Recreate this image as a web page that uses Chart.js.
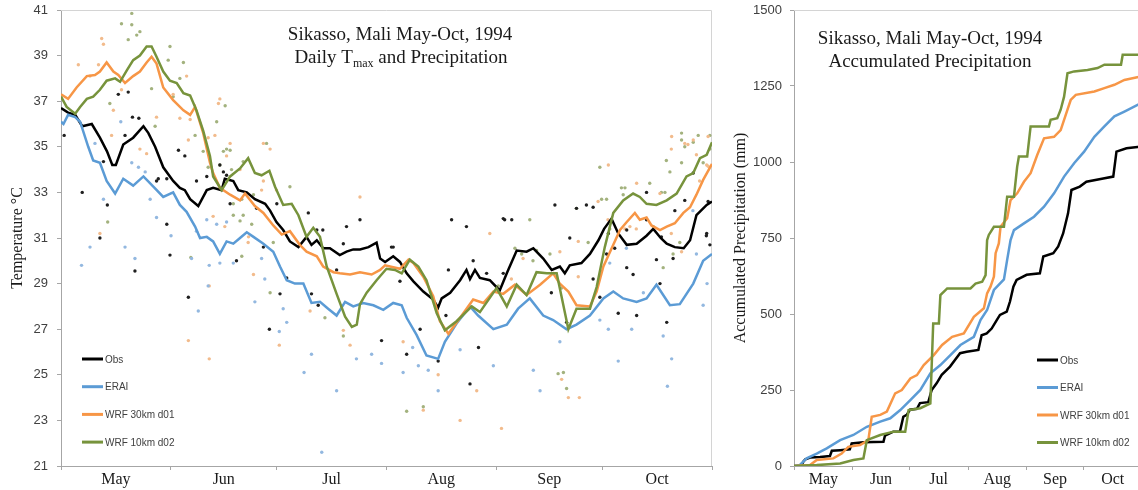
<!DOCTYPE html>
<html><head><meta charset="utf-8">
<script src="https://cdn.jsdelivr.net/npm/chart.js@4.4.1/dist/chart.umd.min.js"></script>
<style>
html,body{margin:0;padding:0;overflow:hidden;background:#fff;width:1138px;height:490px;}
#wrapL{position:absolute;left:0;top:0;width:720px;height:490px;}
#wrapR{position:absolute;left:720px;top:0;width:430px;height:490px;}
</style></head><body>
<div id="wrapL"><canvas id="cL" width="720" height="490"></canvas></div>
<div id="wrapR"><canvas id="cR" width="430" height="490"></canvas></div>
<script>
// ---------- categories / labels ----------
const monthLabels = ['May','Jun','Jul','Aug','Sep','Oct'];
const monthStartDays = [0,31,61,92,123,153,184];   // day index since 1 May 1994
const seriesNames = ['Obs','ERAI','WRF 30km d01','WRF 10km d02'];
const tempTicks = [21,41,2];       // min, max, step
const precipTicks = [0,1500,250];  // min, max, step
const titleLeft1 = 'Sikasso, Mali May-Oct, 1994';
const titleLeft2 = ['Daily T','max',' and Precipitation'];
const titleRight1 = 'Sikasso, Mali May-Oct, 1994';
const titleRight2 = 'Accumulated Precipitation';
const yTitleLeft = 'Temperature °C';
const yTitleRight = 'Accumulated Precipitation (mm)';

// ---------- daily Tmax, running mean lines  [day, °C] ----------
const tmaxObsLine = [[0,36.7],[2,36.5],[4,36.4],[6,35.9],[8.7,36.0],[11,35.4],[13,34.8],[14.5,34.2],[15.5,34.2],[17.6,35.1],[20.4,35.4],[23.3,35.9],[24.7,35.6],[26.6,35.0],[28.9,34.1],[31.7,33.5],[33.6,33.2],[35,33.1],[36.5,32.7],[38.8,32.4],[41.2,33.1],[43,33.2],[45.4,33.1],[46.3,33.6],[48.7,33.5],[50.1,33.1],[52.5,33.0],[54.8,32.7],[57.7,32.5],[59.1,32.2],[60.9,31.7],[62.8,31.35],[64.7,30.85],[67.1,30.6],[69.4,31.05],[70.8,30.7],[72.3,30.9],[74.1,30.55],[76,30.55],[78.8,30.25],[80.7,30.4],[82.6,30.5],[84.5,30.5],[86.9,30.6],[89.2,30.8],[90.2,30.1],[91.6,29.95],[93.9,30.2],[95.8,29.95],[97.7,29.45],[99.6,29.1],[102.4,28.65],[105.2,28.3],[106.6,27.95],[107.6,28.35],[110,28.6],[112.8,29.15],[114.6,29.6],[115.6,29.2],[117,29.6],[118.4,29.25],[121.2,29.15],[124,28.7],[126,29.45],[128.8,30.45],[131.6,30.4],[133.5,30.55],[136.3,30.1],[138.7,29.6],[141,29.75],[142.4,29.45],[143.8,29.8],[147.1,29.9],[149.5,30.3],[151.9,30.9],[153.5,31.4],[155.6,31.85],[157.5,31.2],[159.9,30.7],[162.7,30.75],[165.5,31.1],[167.4,31.4],[169.5,31.0],[171.2,30.75],[173.5,30.6],[176,30.55],[177.8,30.9],[179.6,32.0],[182.5,32.45],[184,32.6]];
const tmaxEraiLine = [[0,36.1],[0.7,36.0],[2,36.4],[4,36.3],[5.4,36.1],[7.7,35.0],[9.1,34.4],[11,34.3],[12.9,33.5],[15.3,32.95],[17.6,33.6],[20.4,33.3],[23.3,33.7],[26.1,33.25],[28.9,32.8],[31.7,33.0],[33.6,32.45],[35.5,32.15],[37.9,31.5],[39.3,31.0],[41.2,31.05],[43,30.85],[44.9,30.3],[46.8,30.85],[48.7,30.75],[50.6,31.0],[52.5,31.25],[54.4,31.05],[57.2,30.75],[60,30.4],[61.9,29.75],[63.8,29.15],[66.1,29.0],[68.5,29.0],[70.8,28.15],[73.2,28.2],[75.5,27.9],[77.9,27.6],[80.3,28.2],[82.6,28.0],[85.4,28.15],[88.3,28.05],[91.1,27.85],[93.9,28.15],[96.3,28.05],[97.7,27.5],[100.5,26.75],[103.3,25.85],[106.6,25.7],[108.5,26.45],[111.8,27.25],[115.6,28.0],[117.9,27.6],[122.2,27.0],[126,27.2],[129.2,27.9],[132.5,28.35],[136.3,27.6],[139.1,27.4],[142.9,27.0],[145.7,27.2],[149.5,27.6],[153.3,28.35],[156.1,28.65],[158.9,28.35],[162.7,28.2],[165.5,28.35],[168.3,28.95],[172.1,28.05],[174.9,28.1],[178.7,29.0],[181.5,30.0],[184,30.3]];
const tmaxWrf30Line = [[0,37.3],[2,37.1],[4.4,37.6],[7.3,38.1],[9.6,38.15],[11,38.3],[12.9,38.7],[14.8,38.3],[16.2,38.15],[18.1,37.8],[20.4,38.1],[22.3,38.3],[24.2,38.7],[25.6,38.95],[27,38.65],[28.9,37.6],[31.7,37.05],[34.6,36.6],[36.5,36.4],[37.9,36.75],[40.2,35.6],[42.1,34.3],[43,33.85],[44.9,33.2],[47.8,32.9],[50.6,32.65],[52,32.95],[54.8,32.4],[57.2,32.1],[60,31.55],[62.4,31.15],[64.7,31.3],[67.5,30.7],[69.4,30.4],[72.3,30.2],[74.1,29.75],[77,29.5],[78.8,29.45],[81.7,29.4],[84.5,29.5],[87.8,29.4],[90.2,29.6],[91.6,29.8],[93,29.75],[95.8,29.65],[98.2,30.05],[99.6,29.9],[102.4,29.3],[105.2,28.45],[107.1,27.35],[109.5,26.8],[112.8,27.5],[116.5,28.3],[119.4,28.15],[122.2,28.65],[125,28.55],[128.3,28.95],[131.6,28.5],[135.4,28.95],[139.1,29.45],[141,29.0],[143.4,28.65],[145.7,28.05],[149.5,28.0],[151.4,28.65],[153.3,29.75],[156.1,30.7],[158,31.35],[159.9,31.7],[162.2,32.1],[163.6,31.8],[165.5,31.9],[166.9,31.55],[169.3,31.35],[171.2,31.5],[173.5,31.65],[175.9,32.1],[177.8,32.35],[179.6,32.9],[181.5,33.55],[184,34.25]];
const tmaxWrf10Line = [[0,37.2],[1.6,36.75],[4,36.45],[5.4,36.75],[7.3,37.1],[9.1,37.2],[11,37.5],[12.9,37.9],[15.3,38.0],[16.7,37.85],[18.6,38.35],[20.4,38.8],[22.3,39.0],[24.2,39.4],[25.6,39.4],[27,38.95],[28.9,38.3],[30.8,37.9],[32.7,37.8],[34.6,37.35],[36.5,37.25],[38.3,36.6],[40.2,35.7],[42.1,34.6],[43,33.7],[45.4,33.1],[47.8,33.7],[50.6,34.05],[52.9,34.5],[54.8,33.85],[56.7,33.75],[58.9,33.95],[60.5,33.25],[62.8,32.45],[65.2,32.5],[67.1,32.0],[69.4,31.05],[71.3,31.45],[73.2,31.05],[75.1,29.75],[77.9,28.55],[80.3,27.55],[82.2,27.1],[83.6,27.2],[84.5,28.1],[86.4,28.6],[89.2,29.15],[92,29.65],[94.4,29.6],[96.3,29.45],[98.6,30.05],[101,29.75],[103.3,29.15],[106.2,27.7],[108.5,26.95],[111.8,27.35],[116.1,28.0],[118.4,27.75],[123.1,28.8],[126,28.0],[128.8,28.95],[131.6,28.5],[134.4,29.5],[137.3,29.45],[140.1,29.45],[143.4,27.0],[145.7,27.9],[149.5,27.9],[151.4,28.85],[153.7,30.6],[156.1,32.1],[158.9,32.65],[161.7,32.95],[163.6,32.8],[165.5,32.5],[168.3,32.45],[171.2,32.65],[174,32.95],[176.8,33.7],[178.7,33.85],[180.6,34.5],[182.5,34.65],[184,35.2]];

// ---------- daily Tmax points [day, °C] ----------
const tmaxObsDots = [[0.9,35.5],[6,33.0],[11,31.0],[13.1,32.45],[16.2,37.3],[19,37.4],[20.2,36.3],[22,36.25],[27,33.5],[29.9,33.6],[35,34.6],[41.2,33.7],[46.8,33.75],[47.8,32.5],[55.3,32.3],[57.2,30.6],[61,32.5],[69.9,32.1],[72.3,31.35],[74,31.35],[80.7,31.5],[84.5,31.8],[20.9,29.55],[30.8,30.25],[36,28.4],[49.6,30.0],[58.9,27.0],[61.9,28.55],[63.8,29.25],[70.8,28.55],[72.7,28.05],[77.9,29.6],[79.8,30.75],[93.4,30.6],[95.8,29.1],[90.6,26.5],[97.7,25.9],[101.5,27.0],[106.6,25.6],[108.8,27.6],[115.6,24.6],[118,26.2],[116.5,30.0],[109.5,29.6],[120.3,29.45],[142.9,27.3],[150.4,29.2],[152.3,28.4],[154.2,30.3],[159.9,29.7],[162.7,27.6],[169.3,29.0],[171.2,27.3],[173,30.1],[183.4,30.7],[93.9,30.6],[110.4,31.8],[114.6,31.5],[125,31.85],[127.4,31.8],[139.6,32.45],[145.7,32.3],[150.4,32.35],[154.7,31.2],[159.9,31.35],[165.5,33.0],[169.7,31.05],[176.3,32.65],[178.7,33.85],[182.9,32.6],[182.5,31.2],[18.1,35.5],[12,34.35],[33.2,34.85],[44.9,34.2],[45.9,33.9],[38.3,33.5],[27.5,33.6],[29.9,31.6],[125.4,31.8],[143.8,31.0],[148.5,32.45],[165.5,31.8],[125,29.45],[138.6,28.6],[156.5,30.55],[161.7,29.4],[168.3,30.05],[182.4,31.1],[157.5,27.7],[173.5,32.2]];
const tmaxEraiDots = [[5.8,29.8],[8.2,30.6],[18.1,30.6],[20.9,30.1],[36.9,30.1],[38.8,27.8],[41.9,29.8],[44.9,29.9],[48.7,29.9],[54.8,28.2],[57.6,29.2],[61.7,26.9],[62.8,27.9],[63.8,27.3],[68.7,25.1],[70.8,25.9],[73.7,21.6],[77.9,24.3],[83.5,25.7],[87.8,25.9],[90.6,25.5],[96.7,25.1],[99.4,26.2],[101,25.4],[103.8,25.2],[106.6,24.3],[112.8,26.1],[122.2,25.4],[133.5,25.2],[135.4,24.3],[141,26.45],[152.3,27.4],[154.7,27.0],[157.5,25.6],[161.3,27.0],[164.6,28.6],[170.2,26.7],[172.6,25.7],[171.4,24.5],[181.5,28.05],[41.2,31.8],[46.8,31.7],[41.6,28.9],[16.9,36.1],[9.6,35.15],[20,34.3],[21.9,34.1],[23.8,33.9],[25.2,32.7],[12,32.7],[27,31.9],[31.1,31.1],[38.3,31.3],[44,31.6],[56.7,30.1],[155.1,29.9],[159.8,30.55],[179.6,30.3],[182.6,29.0],[178.6,32.2]];
const tmaxWrf30Dots = [[11.5,39.75],[12,39.5],[10.6,38.6],[4.9,38.6],[8.2,38.1],[17.1,37.5],[14.3,35.5],[24.2,34.7],[27,36.3],[31.7,37.3],[35.5,38.1],[44.9,37.1],[36.5,36.2],[41.6,35.4],[46.8,34.6],[50.6,34.0],[57.2,35.15],[84.5,32.8],[41.9,25.7],[36,26.5],[41.9,28.9],[52.9,30.8],[61.7,26.3],[70.4,27.8],[79.8,26.95],[81.7,26.3],[96.7,26.45],[102.4,23.45],[106.6,25.0],[112.8,23.0],[124.5,22.65],[117.5,24.3],[141.5,24.8],[143.4,24.0],[146.5,24.0],[154.7,34.2],[162.7,33.4],[169.3,32.95],[172.6,35.45],[176.3,35.15],[178.7,35.3],[182.9,35.45],[182.5,34.2],[14.8,36.6],[22.3,34.9],[33.6,36.25],[36,35.3],[43.5,35.5],[47.8,35.15],[59.1,34.9],[56.7,33.1],[57.2,33.5],[60.9,33.1],[54.4,29.4],[43,31.95],[46.3,31.5],[53,31.05],[44.5,36.9],[177.2,35.1],[172.5,34.9],[179.6,34.65],[182.9,34.15],[180.5,33.5],[151.8,32.6],[154.6,31.8],[159.4,31.4],[160.8,31.5],[162.6,31.4],[146.2,30.85],[121.2,31.2],[130.6,30.1],[141,30.4],[127.3,29.2],[146.2,29.3],[175.4,30.4],[172.5,31.2],[11,31.2]];
const tmaxWrf10Dots = [[20,40.85],[17.1,40.4],[20,40.35],[22.3,40.05],[21.4,39.9],[19,39.7],[30.8,39.4],[34.6,38.7],[30.3,38.8],[25.6,37.55],[31.7,37.2],[33.6,38.0],[47.8,34.85],[44.9,34.2],[58.1,35.15],[64.7,33.25],[74.6,27.5],[79.8,26.7],[97.7,23.4],[102.4,23.6],[140.5,25.05],[142,25.1],[142.9,24.4],[152.3,34.1],[158.4,33.2],[172.1,33.9],[175.4,35.3],[183.4,34.9],[13.8,36.9],[26.6,35.9],[37.9,35.5],[40.2,34.8],[41.6,34.1],[45.9,34.8],[44,36.1],[46.4,36.8],[51.5,34.35],[48.2,34.0],[13.2,31.7],[36.7,30.15],[51.1,30.2],[59.1,28.6],[48.7,32.0],[51.5,32.0],[50.6,31.75],[53.9,31.6],[60,30.8],[48.7,32.5],[51.1,32.7],[46.8,34.9],[54.4,32.9],[175.4,35.6],[178.7,35.2],[180.1,35.5],[183.4,35.5],[176.3,35.0],[171.1,34.4],[175.4,34.3],[181.5,34.3],[159.4,33.2],[158.9,32.9],[152.8,32.7],[154.2,32.7],[166.4,33.4],[169.7,33.0],[170.7,33.0],[145.7,32.3],[132.5,31.8],[155.1,31.4],[167.4,31.5],[149,30.8],[128.3,30.55],[130.2,30.3],[134.4,30.45],[133.4,30.0],[138.2,30.3],[123.6,28.9],[141.4,28.8],[170.2,29.7],[173,30.3],[174.9,30.8]];

// ---------- accumulated precipitation [day, mm] ----------
const precipObs = [[0,0],[3,0],[4,3],[5,15],[6,22],[8.5,28],[13.8,30],[19,33],[20,50],[24.4,52],[29.5,55],[30.5,74],[36.7,78],[47.3,80],[48.1,100],[52.5,113],[56,113],[57.8,162],[59.6,168],[61.3,185],[65,188],[66.6,207],[71,210],[72.8,250],[75.4,272],[78.1,300],[82.5,327],[85.1,349],[87.8,371],[91.3,376],[97.5,382],[99.2,430],[101.9,436],[104.5,452],[107.2,480],[108.9,497],[112.5,508],[114.2,541],[116,590],[117.7,612],[123,629],[130,634],[131.8,689],[137.1,700],[139.7,722],[142.3,765],[144.9,831],[146.7,908],[151.1,919],[154.6,935],[163.5,946],[168.8,952],[170.5,1034],[175.8,1045],[184,1051]];
const precipErai = [[0,0],[3,3],[6.7,25],[12,41],[17.3,58],[24.4,85],[31.4,102],[38.5,129],[45.6,146],[50.9,157],[56.2,184],[61.5,217],[66.8,250],[72.1,305],[77.4,332],[82.7,365],[88,398],[95.1,425],[98.6,480],[102.1,513],[105.7,579],[111,614],[112.7,678],[114.5,743],[116.3,776],[121.6,798],[126.9,820],[132.2,853],[137.5,897],[142.8,952],[148.1,996],[153.4,1034],[158.8,1083],[164.1,1117],[169.4,1150],[174.7,1166],[184,1195]];
const precipWrf30 = [[0,0],[8.5,3],[12,20],[20.8,25],[25.2,41],[28.7,63],[34.9,69],[39.3,85],[41.1,162],[45.6,168],[49.1,179],[53.5,239],[57,250],[61.5,288],[65,299],[68.6,332],[73.9,365],[78.3,398],[83.6,425],[89.8,436],[95.1,491],[100.4,519],[102.1,568],[103.9,590],[105.7,623],[106.6,700],[108.3,732],[109.2,787],[112.7,815],[114.5,875],[118,897],[121.6,935],[125.1,963],[128.6,1023],[132.2,1078],[137.5,1083],[141,1105],[144.6,1172],[146.3,1204],[149,1221],[158.8,1232],[164.1,1243],[169.4,1254],[174.7,1270],[184,1282]];
const precipWrf10 = [[0,0],[12,3],[24.4,8],[31.4,20],[36.7,25],[38.5,85],[45.6,102],[52.6,113],[58.8,113],[60.6,184],[66.8,190],[72.1,206],[73.6,469],[76.6,469],[77.4,562],[81,584],[93.3,584],[96,600],[99.5,606],[101.3,628],[102.1,743],[103,760],[105.7,787],[111,787],[112.7,886],[116.3,886],[118,985],[118.9,1018],[123.3,1018],[125.1,1117],[134.8,1117],[135.7,1139],[139.2,1144],[141,1172],[142.8,1215],[144.6,1292],[148.1,1298],[155.2,1303],[160.5,1309],[164.1,1320],[172.9,1320],[173.8,1353],[184,1353]];

// ---------- styling ----------
const lineColors = ['#000000','#5b9bd5','#f79646','#77933c'];
const dotColors = ['#1f1f1f','#93b8e0','#f2bb8c','#a3b27e'];
const SERIF = '"Liberation Serif", "Times New Roman", serif';
const SANS = '"Liberation Sans", Arial, sans-serif';
const AXIS = '#a6a6a6';

const toXY = arr => arr.map(p => ({x:p[0], y:p[1]}));
const mids = monthLabels.map((m,i)=>(monthStartDays[i]+monthStartDays[i+1])/2);

function monthAxis(){
  return {
    type:'linear', min:monthStartDays[0], max:monthStartDays[monthStartDays.length-1],
    afterBuildTicks(axis){
      const t=[];
      monthStartDays.forEach((d,i)=>{ t.push({value:d}); if(i<mids.length) t.push({value:mids[i]}); });
      axis.ticks=t;
    },
    afterFit(axis){ axis.height=24; axis.paddingLeft=0; axis.paddingRight=0; },
    ticks:{autoSkip:false,maxRotation:0,minRotation:0,padding:0,color:'#1a1a1a',
      font:{family:SERIF,size:16},
      callback(value){ const i=mids.indexOf(value); return i>=0?monthLabels[i]:''; }},
    grid:{display:true,drawOnChartArea:false,drawTicks:true,tickLength:4,tickWidth:1,
      tickColor:ctx=>(ctx.tick && monthStartDays.includes(ctx.tick.value))?AXIS:'rgba(0,0,0,0)'},
    border:{display:true,color:AXIS,width:1}
  };
}
function valueAxis(t, width, pad, title, titlePad){
  return {
    type:'linear', min:t[0], max:t[1],
    afterFit(a){ a.width=width; a.paddingTop=0; a.paddingBottom=0; },
    ticks:{stepSize:t[2], padding:pad, color:'#404040', font:{family:SANS,size:13},
      callback:v=>String(v)},
    grid:{drawOnChartArea:false, tickLength:4, tickColor:AXIS},
    border:{display:true,color:AXIS,width:1},
    title:{display:true,text:title,color:'#1a1a1a',font:{family:SERIF,size:16},padding:{top:titlePad,bottom:0}}
  };
}

const framePlugin = {
  id:'frame',
  beforeDatasetsDraw(chart){
    const {ctx, chartArea:a}=chart;
    ctx.save(); ctx.strokeStyle='#d4d4d4'; ctx.lineWidth=1;
    ctx.beginPath(); ctx.moveTo(a.left, a.top+0.5); ctx.lineTo(a.right-0.5,a.top+0.5); ctx.lineTo(a.right-0.5,a.bottom); ctx.stroke();
    ctx.restore();
  }
};
const titlePlugin = {
  id:'ctitle',
  afterDraw(chart, args, opts){
    const ctx=chart.ctx; ctx.save(); ctx.fillStyle='#1a1a1a'; ctx.textBaseline='alphabetic'; ctx.textAlign='left';
    opts.lines.forEach(line=>{
      let w=0;
      line.parts.forEach(p=>{ ctx.font=p.size+'px '+SERIF; w+=ctx.measureText(p.t).width; });
      let x=line.cx-w/2;
      line.parts.forEach(p=>{ ctx.font=p.size+'px '+SERIF; ctx.fillText(p.t,x,line.y+(p.dy||0)); x+=ctx.measureText(p.t).width; });
    });
    ctx.restore();
  }
};
const legendPlugin = {
  id:'clegend',
  afterDraw(chart, args, opts){
    const ctx=chart.ctx; ctx.save();
    seriesNames.forEach((name,i)=>{
      const y=opts.y0+i*opts.dy;
      ctx.strokeStyle=lineColors[i]; ctx.lineWidth=3; ctx.lineCap='butt';
      ctx.beginPath(); ctx.moveTo(opts.x0,y); ctx.lineTo(opts.x0+21,y); ctx.stroke();
      ctx.fillStyle='#404040'; ctx.font='10px '+SANS; ctx.textBaseline='middle'; ctx.textAlign='left';
      ctx.fillText(name, opts.x0+23, y+1);
    });
    ctx.restore();
  }
};

const lineSets = (arrs, width) => arrs.map((a,i)=>({
  label:seriesNames[i], data:toXY(a), borderColor:lineColors[i], backgroundColor:lineColors[i],
  borderWidth:width, pointRadius:0, tension:0, fill:false, order:3-i
}));
const dotSets = arrs => arrs.map((a,i)=>({
  label:seriesNames[i]+' daily', data:toXY(a), showLine:false, pointRadius:1.7, pointBorderWidth:0,
  pointBackgroundColor:dotColors[i], borderColor:dotColors[i], order:10+i
}));

new Chart(document.getElementById('cL'), {
  type:'line',
  data:{datasets:[...lineSets([tmaxObsLine,tmaxEraiLine,tmaxWrf30Line,tmaxWrf10Line],2.5),
                  ...dotSets([tmaxObsDots,tmaxEraiDots,tmaxWrf30Dots,tmaxWrf10Dots])]},
  options:{
    responsive:false, animation:false,
    layout:{padding:{top:10,right:8,left:0,bottom:0}},
    scales:{x:monthAxis(), y:valueAxis(tempTicks,61,9,yTitleLeft,8)},
    plugins:{legend:{display:false}, tooltip:{enabled:false},
      ctitle:{lines:[{cx:400,y:40,parts:[{t:titleLeft1,size:19}]},
                     {cx:401,y:63,parts:[{t:titleLeft2[0],size:19},{t:titleLeft2[1],size:12,dy:4},{t:titleLeft2[2],size:19}]}]},
      clegend:{x0:82,y0:359,dy:27.7}}
  },
  plugins:[framePlugin,titlePlugin,legendPlugin]
});

new Chart(document.getElementById('cR'), {
  type:'line',
  data:{datasets:lineSets([precipObs,precipErai,precipWrf30,precipWrf10],2.5)},
  options:{
    responsive:false, animation:false,
    layout:{padding:{top:10,right:8,left:0,bottom:0}},
    scales:{x:monthAxis(), y:valueAxis(precipTicks,74,8,yTitleRight,11)},
    plugins:{legend:{display:false}, tooltip:{enabled:false},
      ctitle:{lines:[{cx:210,y:44,parts:[{t:titleRight1,size:19}]},
                     {cx:210,y:67,parts:[{t:titleRight2,size:19}]}]},
      clegend:{x0:317,y0:360,dy:27.5}}
  },
  plugins:[framePlugin,titlePlugin,legendPlugin]
});
</script>
</body></html>
